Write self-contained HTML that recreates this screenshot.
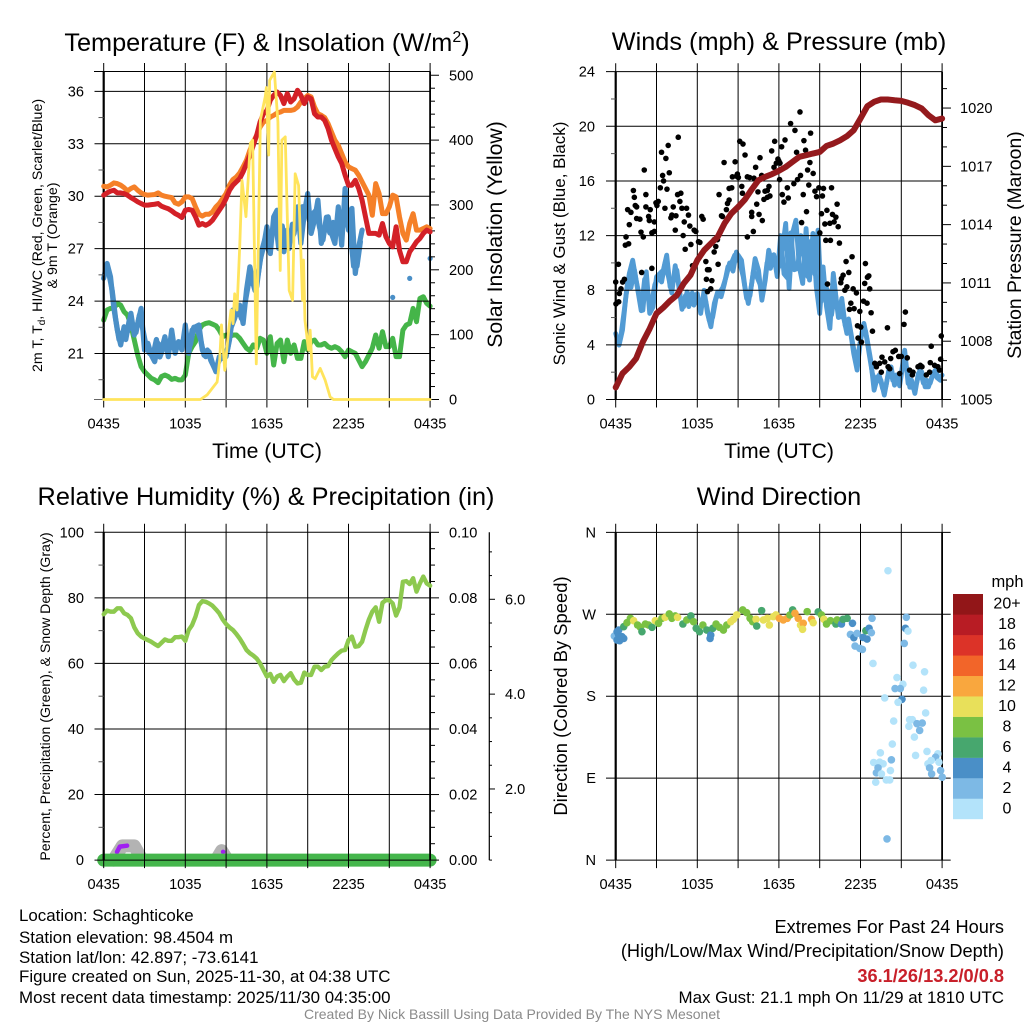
<!DOCTYPE html>
<html lang="en">
<head>
<meta charset="utf-8">
<title>NYS Mesonet Station Meteogram</title>
<style>
html,body{margin:0;padding:0;background:#fff;}
svg{display:block;font-family:"Liberation Sans",Arial,sans-serif;}
</style>
</head>
<body>
<svg id="fig" xmlns="http://www.w3.org/2000/svg" width="1024" height="1024" viewBox="0 0 1024 1024">
<rect width="1024" height="1024" fill="#fff"/>
<text x="267" y="51" font-size="25.3" text-anchor="middle">Temperature (F) &amp; Insolation (W/m<tspan dy="-9" font-size="16">2</tspan><tspan dy="9">)</tspan></text>
<text x="779" y="50" font-size="25.3" text-anchor="middle">Winds (mph) &amp; Pressure (mb)</text>
<text x="266" y="505" font-size="25.3" text-anchor="middle">Relative Humidity (%) &amp; Precipitation (in)</text>
<text x="779" y="505" font-size="25.3" text-anchor="middle">Wind Direction</text>

<text x="267" y="458" font-size="21.2" text-anchor="middle">Time (UTC)</text>
<text x="779" y="458" font-size="21.2" text-anchor="middle">Time (UTC)</text>

<text transform="translate(42,235.5) rotate(-90)" font-size="14.2" text-anchor="middle">2m T, T<tspan dy="3" font-size="10">d</tspan><tspan dy="-3">, HI/WC (Red, Green, Scarlet/Blue)</tspan></text>
<text transform="translate(57,235.5) rotate(-90)" font-size="14.2" text-anchor="middle">&amp; 9m T (Orange)</text>
<text transform="translate(502,234.5) rotate(-90)" font-size="21.2" text-anchor="middle">Solar Insolation (Yellow)</text>
<text transform="translate(565,243.5) rotate(-90)" font-size="17" text-anchor="middle">Sonic Wind &amp; Gust (Blue, Black)</text>
<text transform="translate(1021,245) rotate(-90)" font-size="19.4" text-anchor="middle">Station Pressure (Maroon)</text>
<text transform="translate(50,696.5) rotate(-90)" font-size="14.1" text-anchor="middle">Percent, Precipitation (Green), &amp; Snow Depth (Gray)</text>
<text transform="translate(567,696) rotate(-90)" font-size="18.4" text-anchor="middle">Direction (Colored By Speed)</text>

<g id="p1"></g>
<g id="p2"></g>
<g id="p3"></g>
<g id="p4"></g>
<g id="cb"></g>

<text x="1007.5" y="587" font-size="16.5" text-anchor="middle">mph</text>

<g font-size="16.9">
<text x="19" y="921">Location: Schaghticoke</text>
<text x="19" y="943">Station elevation: 98.4504 m</text>
<text x="19" y="963">Station lat/lon: 42.897; -73.6141</text>
<text x="19" y="982">Figure created on Sun, 2025-11-30, at 04:38 UTC</text>
<text x="19" y="1003">Most recent data timestamp: 2025/11/30 04:35:00</text>
</g>
<g text-anchor="end">
<text x="1004" y="933" font-size="18.2">Extremes For Past 24 Hours</text>
<text x="1004" y="957" font-size="18.2">(High/Low/Max Wind/Precipitation/Snow Depth)</text>
<text x="1004" y="982" font-size="18.2" font-weight="bold" fill="#c8202a">36.1/26/13.2/0/0.8</text>
<text x="1004" y="1003" font-size="16.9">Max Gust: 21.1 mph On 11/29 at 1810 UTC</text>
</g>
<text x="512" y="1019" font-size="14" fill="#8a8a8a" text-anchor="middle">Created By Nick Bassill Using Data Provided By The NYS Mesonet</text>
</svg>

<script>
// ---------- chart data (15-minute samples unless noted; hours since 0435 UTC) ----------
const timeTickLabels = ['0435','1035','1635','2235','0435'];
const airTemp = [30.06,30.19,30.29,30.34,30.19,30.19,30.15,30.06,29.92,29.81,29.68,29.58,29.49,29.49,29.52,29.54,29.58,29.43,29.35,29.28,29.16,29.01,28.91,28.78,29.2,29.24,29.2,28.82,28.34,28.44,28.34,28.44,28.63,28.91,29.2,29.49,29.87,30.34,30.63,30.82,31.01,31.39,31.87,32.34,32.91,33.49,34.25,34.72,34.9,35.49,35.77,35.96,35.77,35.3,35.87,35.39,35.58,36.06,35.77,35.3,35.68,35.58,34.72,34.53,34.53,34.34,33.87,33.2,32.72,32.25,31.87,31.2,30.63,30.63,30.91,30.44,29.77,28.82,27.87,27.87,27.87,27.77,28.44,27.68,27.3,27.1,28.25,26.9,26.25,26.25,26.82,27.1,27.39,27.58,27.87,28.06,27.96];
const temp9m = [30.57,30.53,30.63,30.76,30.72,30.63,30.49,30.3,30.44,30.53,30.34,30.19,30.1,30.06,30.08,30.1,30.19,30.06,30.0,29.96,29.92,29.62,29.54,29.68,29.96,29.96,29.87,29.39,28.97,28.86,28.97,28.97,29.1,29.39,29.58,29.87,30.15,30.63,30.95,31.1,31.33,31.68,32.06,32.63,33.1,33.49,33.96,34.25,34.34,34.53,34.63,34.76,34.82,34.91,34.91,34.91,34.95,35.1,35.39,35.58,35.77,35.68,35.1,34.72,34.63,34.5,34.15,33.67,33.2,32.91,32.44,31.96,31.68,31.58,31.49,31.2,30.82,30.44,30.06,28.91,30.72,30.15,29.0,29.0,29.39,30.06,29.96,28.82,27.87,27.49,28.44,29.0,28.06,28.06,28.15,28.25,28.15];
const dewPoint = [22.91,23.49,23.58,23.58,23.87,23.77,23.39,23.2,22.63,21.77,20.91,20.25,19.96,19.77,19.58,19.49,19.33,19.68,19.77,19.68,19.52,19.58,19.49,19.49,19.77,21.01,21.39,21.68,22.34,22.63,22.72,22.76,22.68,22.59,22.34,21.96,22.06,21.96,22.06,22.06,21.87,21.58,21.3,21.16,21.49,21.3,21.87,21.77,21.01,21.96,20.34,21.58,21.77,20.53,21.77,21.01,21.49,20.72,20.72,21.68,21.2,21.68,21.77,21.49,21.49,21.58,21.39,21.3,21.39,21.3,21.1,20.82,21.2,21.1,21.01,20.63,20.25,20.53,20.91,21.3,22.06,21.3,22.25,21.39,21.39,21.87,20.82,20.82,22.34,22.63,22.72,23.58,22.82,24.15,24.25,23.87,23.71];
const windChill = [25.3,26.15,25.39,23.58,22.34,21.49,22.53,22.25,23.3,22.06,22.72,23.58,21.2,21.58,20.91,20.53,21.58,21.2,21.96,20.82,22.34,21.01,21.68,21.2,22.63,21.01,22.34,22.53,22.63,21.2,20.82,21.1,20.44,19.96,20.82,20.72,20.82,21.77,23.49,23.3,23.77,22.72,24.63,25.96,25.01,24.82,26.34,27.1,28.25,26.72,28.82,29.2,27.49,26.82,28.06,27.49,27.87,29.39,27.3,29.01,30.15,27.87,28.63,29.77,27.3,28.06,28.82,27.87,27.3,29.39,27.2,30.44,28.06,29.3,25.58,27.1,28.06,null,null,null,null,null,null,null,null,24.21,null,null,null,null,25.3,null,null,null,null,null,26.44];
// extra 15-minute samples offset by 7.5 minutes from the series above
const windChillMid = [25.6,25.6,24.6,23,21.8,22.2,21.8,22.9,22.4,22.2,23.2,22.4,21.4,21.0,20.9,21.8,20.8,21.3,21.4,21.3,21.6,21.4,21.4,21.8,22.0,21.5,22.5,22.4,21.8,20.9,21.2,20.6,20.2,20.4,20.8,20.9,21.3,22.5,23.0,23.6,23.0,23.8,24.9,25.3,24.6,25.6,26.9,27.6,26.9,27.8,28.6,27.0,28.3,27.2,27.0,28.4,28.2,28.2,29.4,29.4,28.6,29.0,29.2,28.2,27.5,28.8,27.9,28.5,28.0,28.0,29.0,28.4,28.0,26.0,26.0,27.4];
const solarHours = [0,7.11,7.6,7.97,8.34,8.53,8.66,8.9,9.19,9.36,9.51,9.63,9.8,10.0,10.17,10.46,10.78,10.95,11.22,11.39,11.52,11.88,11.96,12.13,12.2,12.55,12.81,12.98,13.1,13.35,13.64,13.89,14.08,14.33,14.62,14.69,14.8,15.06,15.18,15.35,15.55,15.92,16.28,16.65,16.9,24];
const solarValues = [0,0,7,17,27,61,115,45,107,138,117,163,138,235,338,282,395,400,55,266,431,467,481,377,492,505,428,199,400,405,168,153,348,330,153,215,122,76,107,35,32,48,30,4,0,0];

const windSpeed = [4.83,3.98,5.08,7.52,9.23,10.2,8.74,7.52,6.54,9.35,6.3,6.79,8.98,9.23,9.47,10.57,8.25,8.74,9.47,7.52,6.79,7.88,7.27,6.91,7.76,6.3,8.0,6.3,5.32,7.03,7.88,7.52,8.49,9.71,9.96,10.57,10.57,10.2,8.25,7.03,8.49,10.32,9.47,7.27,8.74,10.93,9.96,10.2,9.71,10.93,12.89,8.13,12.16,13.13,9.71,8.49,12.52,8.74,12.16,8.25,6.3,9.71,6.79,5.2,9.23,7.03,6.05,6.05,4.83,5.08,3.37,2.15,4.34,5.57,4.34,2.88,0.68,1.66,1.42,0.32,1.66,2.39,1.05,1.66,1.9,3.61,1.17,1.42,0.44,1.9,2.03,0.93,0.93,1.66,2.15,1.54,1.78];
// extra 15-minute samples offset by 7.5 minutes from the series above
const windSpeedMid = [4.4,4.6,6.5,8.6,8.2,9.5,8.0,6.5,8.8,7.6,7.0,8.4,9.0,8.6,10.0,9.0,7.8,9.8,8.4,6.6,7.6,6.8,7.8,7.4,7.0,7.2,7.2,5.8,6.0,7.4,7.8,8.2,9.0,10.0,9.4,10.8,10.0,9.0,7.4,7.6,9.4,9.0,8.4,8.0,10.0,9.6,10.6,9.0,12.0,9.2,8.9,12.2,9.5,9.6,12.0,10.2,9.0,11.6,9.2,12.4,7.2,8.4,7.9,6.2,8.0,6.0,7.4,5.4,5.9,4.4,3.0,3.6,5.0,5.0,3.4,1.9,1.2,1.8,0.8,1.0,2.4,1.4,1.8,1.0,2.6,2.4,0.9,0.9,1.2,2.2,1.2,1.4,1.2,2.0,1.6,1.4];
// pressure is sampled every 30 minutes
const pressure = [1005.62,1006.34,1006.68,1007.11,1007.97,1008.65,1009.43,1009.73,1010.08,1010.37,1010.97,1011.4,1012.17,1012.68,1013.03,1013.37,1014.06,1014.57,1014.91,1015.29,1015.81,1016.29,1016.46,1016.6,1016.77,1016.97,1017.23,1017.49,1017.57,1017.66,1017.74,1018.05,1018.17,1018.34,1018.55,1018.86,1019.46,1020.09,1020.32,1020.44,1020.44,1020.4,1020.37,1020.27,1020.15,1019.98,1019.63,1019.37,1019.46];
const gustHours = [0,0.02,0.22,0.27,0.39,0.51,0.64,0.2,0.71,0.95,0.76,1.0,0.88,1.12,1.37,1.3,1.54,1.44,1.54,1.78,1.86,2.03,1.91,2.1,2.22,2.22,2.42,2.47,2.54,2.66,2.84,2.84,2.66,3.03,3.13,2.96,3.28,3.45,3.52,3.37,3.69,3.86,3.94,3.77,3.62,4.06,4.13,4.23,4.43,4.38,4.55,4.79,4.72,4.6,4.87,5.04,5.21,5.35,4.96,5.11,5.53,5.45,5.77,5.65,5.89,6.09,6.19,6.33,6.43,6.63,6.75,6.87,6.67,7.07,6.99,6.75,7.24,7.36,7.48,7.24,7.53,7.6,7.78,7.85,8.14,8.22,8.34,8.34,8.53,7.97,8.78,8.58,8.88,9.02,8.95,9.12,9.36,9.27,9.51,9.32,9.68,9.85,10.0,10.0,9.68,10.12,10.17,10.29,10.37,10.54,10.78,10.46,10.61,10.73,10.98,11.15,11.27,11.34,11.15,10.9,11.47,11.69,11.64,11.81,11.93,12.05,12.0,12.2,12.25,12.08,12.45,12.86,13.18,13.55,13.84,14.33,13.96,13.3,14.28,14.11,14.52,13.59,13.37,13.1,12.62,12.37,12.69,13.79,14.2,14.65,14.94,15.28,15.87,15.2,14.77,16.28,15.53,15.13,15.94,16.19,14.03,13.67,15.38,15.75,16.06,16.36,15.01,15.45,15.79,16.45,17.38,16.94,18.36,17.14,16.72,16.6,16.55,15.57,18.31,18.61,18.51,18.68,17.0,17.46,17.7,16.85,17.29,17.19,17.53,18.22,18.48,17.95,18.78,17.78,18.02,18.88,19.98,21.3,21.2,23.94,23.2,18.07,17.82,19.05,19.17,19.58,19.41,19.78,20.03,20.22,20.39,20.56,20.81,21.0,21.44,19.53,21.61,21.81,22.23,22.4,22.52,23.13,23.45,23.69,23.89,23.81,23.08,22.84,21.86,20.88,20.15];
const gustValues = [8.6,7.0,7.15,7.76,8.1,8.6,8.8,9.9,11.3,11.4,11.9,12.8,13.9,13.7,14.8,15.3,14.1,14.2,13.25,13.2,12.25,11.9,9.3,16.8,15.0,14.1,13.4,13.1,13.9,12.2,12.3,13.0,9.6,14.2,14.5,14.4,15.5,16.4,16.0,18.1,17.65,18.6,16.6,15.4,14.0,13.3,13.5,14.1,13.45,12.4,15.0,15.1,14.5,19.2,14.0,13.0,14.0,13.5,12.0,11.0,11.35,12.7,12.4,9.8,12.3,11.55,11.5,13.4,13.2,10.1,9.5,9.5,8.8,8.7,8.1,7.9,10.8,11.2,11.7,11.7,9.9,15.0,13.45,13.4,13.9,14.35,14.6,15.45,15.5,17.35,17.4,16.3,16.35,16.25,16.5,18.9,18.7,15.6,17.9,15.1,16.3,16.25,13.7,13.4,11.9,12.3,16.2,17.0,14.3,13.55,13.1,15.2,17.7,16.4,15.25,15.3,15.6,14.9,14.8,14.65,18.2,18.9,17.0,17.3,17.6,16.1,17.45,18.5,15.0,17.3,19.0,20.2,19.7,21.05,18.95,19.5,18.25,18.1,17.35,16.8,16.55,16.4,16.1,15.8,15.5,14.45,14.75,15.0,15.7,15.25,15.5,15.45,15.5,14.9,14.85,14.3,13.85,13.6,13.55,13.35,13.75,12.95,12.85,12.9,13.0,12.65,12.2,11.65,11.65,11.45,10.45,10.1,9.95,9.3,9.1,8.85,8.55,8.45,8.5,9.05,8.95,8.1,8.25,8.1,7.8,8.0,7.05,6.6,6.65,7.2,7.05,6.45,6.35,5.4,5.3,5.0,5.25,6.4,5.5,4.65,3.9,4.2,4.5,2.65,2.4,3.1,2.65,2.75,2.4,3.0,3.5,3.6,3.15,3.15,3.05,2.0,2.15,1.8,2.4,2.5,2.4,2.7,2.5,2.4,2.95,2.15,2.0,1.8,2.0,1.9,2.25];

const humidity = [75,76.1,75.8,75.8,76.8,76.8,75.3,74.8,73.8,71,69.2,68.2,67.6,67.1,66.6,65.9,65.3,66.3,67.3,66.9,66.9,68,68,68.2,66.9,70.2,71.7,74.3,77.8,79,78.8,78.3,77.6,76.5,75.3,73.4,72,71,70.2,69,67.6,65.9,64.1,63.1,62.4,61.5,60,58,56,56.8,54.4,56,56.5,54.6,56,57,55.1,53.9,54.1,57.2,56.5,56.5,59,59,58,59,59.2,61,62.1,63.1,63.9,64.1,67.1,68.2,65.1,65.3,66.6,70.2,73.4,75.8,77.1,72.7,78.5,79.3,79.3,78.3,74.6,77.1,84.9,85.1,84.2,86,81.9,84.4,86.5,84.4,83.7];
const precipHours = [0,24];
const precipValues = [0,0];
const snowHoursA = [0.71,1.37,2.25,2.84];
const snowValuesA = [0.5,0.8,0.8,0.5];
const snowHoursB = [8.26,8.67,9.11];
const snowValuesB = [0.5,0.7,0.5];
const traceHoursA = [0.98,1.18,1.72];
const traceValuesA = [2.5,4.1,4.4];
const traceHoursB = [8.78];
const traceValuesB = [2.5];

const dirHours = [-0.1,0.1,0.22,0.34,0.46,0.1,0.29,0.59,0.22,0.59,0.83,1.08,1.32,1.61,1.81,1.93,2.18,2.42,2.67,2.91,3.15,3.4,3.64,3.94,4.13,4.38,4.55,4.94,5.23,5.53,5.72,5.92,6.16,6.41,6.7,6.94,6.99,7.14,7.38,7.63,7.92,8.17,8.46,8.66,8.9,9.34,9.63,9.88,10.07,10.32,10.37,10.73,10.86,11.15,11.3,11.59,11.78,12.03,12.32,12.62,12.81,13.01,13.18,13.42,13.59,13.79,13.74,14.08,14.4,14.52,14.89,15.13,15.31,15.5,15.79,16.19,16.28,16.6,16.72,17.02,17.41,17.26,17.51,17.75,18.19,17.6,17.95,18.14,18.39,18.63,18.8,18.85,18.48,18.92,20.02,21.37,21.3,21.49,21.22,21.86,22.71,20.68,21.12,20.54,20.93,22.64,19.78,21.05,20.76,22.79,20.44,21.61,21.81,21.56,22.15,22.54,22.35,21.96,20.34,19.46,22.05,22.89,18.97,19.66,19.41,19.29,20.27,19.17,20.2,23.69,23.52,23.2,22.96,23.77,23.08,23.23,23.89,19.12,19.9,20.15,19.54,24.01,19.95];
const dirValues = [246.1,250.9,247.2,243.5,245.4,241.7,241,243.5,252.7,256.4,260.8,265.6,263,258.2,255.7,250.9,259.3,258.2,255.7,263,260.1,265.6,266.7,270.4,265.6,268.2,266.7,259.3,263.8,268.2,261.9,254.6,250.9,258.2,252.7,243.5,247.2,254.6,259.3,255.7,252.7,258.2,261.9,264.5,269.3,274.8,271.8,265.6,261.9,264.5,257.1,274,263.8,265.6,258.2,267.4,269.3,265.6,263.8,265.6,269.3,274.8,271.1,265.6,258.2,260.1,253.5,272.9,264.5,260.8,272.6,269.3,264.5,259.3,263,259.3,263.8,259.3,264.5,265.6,260.1,247.9,244.3,249,244.6,235.1,232.5,231.4,252,254.6,249.8,265.6,242.8,216,317.8,266.7,254.6,251.6,238,214.1,206.8,200.5,193.2,188.4,188.4,186.6,178.1,176.6,173.3,161.6,152.7,154.2,154.2,146.9,149.8,150.5,142.4,135.1,127.4,117.8,114.9,119.3,107.2,105.7,107.5,101.3,110.1,95.8,98.3,116.7,113,109.4,105.7,107.5,101.3,94.7,98.3,85.5,88,88,94.7,91,23.3];
const dirSpeeds = [3,5,5,5,5,5,5,5,5,7,9,9,11,9,9,7,9,9,7,11,9,9,11,9,9,9,11,7,9,7,9,7,7,9,7,5,5,7,9,9,9,9,11,11,11,9,9,9,9,11,7,7,11,11,11,11,11,13,13,13,9,7,13,13,11,13,11,9,13,11,7,9,11,9,9,7,9,5,7,7,5,3,5,3,5,3,3,3,7,5,3,3,5,1,1,3,5,1,3,1,1,1,1,3,3,1,1,5,1,1,1,1,1,1,3,3,3,1,1,1,1,1,1,1,1,3,3,3,1,1,3,1,1,1,3,3,3,1,1,1,1,3,3];
const speedBinColors = ['#b3e3fa','#7db9e5','#4a8fc7','#47a76e','#7ac143','#e8e05a','#f9a73e','#f26529','#dc3328','#b81c24','#921618'];
const colorbarLabels = ['0','2','4','6','8','10','12','14','16','18','20+'];

// ---------- axis functions ----------
const xA = h => 103.7 + h * 13.6;
const xB = h => 615.7 + h * 13.6;
const yTemp = v => 353.5 - (v - 21) * 17.477;
const ySolar = v => 399.5 - v * 0.6485;
const yWind = v => 399.5 - v * 13.66;
const yPres = v => 399.5 - (v - 1005) * 19.43;
const yPct = v => 860.1 - v * 3.278;
const yPrecip = v => 860.1 - v * 3278;
const ySnow = v => 860.1 - (v - 0.5) * 47.42;
const yDir = v => 860.1 - v * 0.9105;

const NS = 'http://www.w3.org/2000/svg';
const hourOf = (i, n) => i * 24 / (n - 1);

function seg(x1, y1, x2, y2, w, parent) {
  const el = document.createElementNS(NS, 'line');
  el.setAttribute('x1', x1); el.setAttribute('y1', y1);
  el.setAttribute('x2', x2); el.setAttribute('y2', y2);
  el.setAttribute('stroke', '#000'); el.setAttribute('stroke-width', w);
  
  
  parent.appendChild(el);
  return el;
}
function label(txt, x, y, anchor, size, parent) {
  const el = document.createElementNS(NS, 'text');
  el.setAttribute('x', x); el.setAttribute('y', y + 1);
  el.setAttribute('text-anchor', anchor); el.setAttribute('font-size', size);
  el.setAttribute('dominant-baseline', 'central');
  el.textContent = txt;
  
  
  parent.appendChild(el);
  return el;
}
function pathFrom(hours, values, xf, yf) {
  let d = '', pen = false;
  values.forEach((v, i) => {
    if (v === null) { pen = false; return; }
    const x = xf(hours[i]).toFixed(2), y = yf(v).toFixed(2);
    const nextMissing = i + 1 >= values.length || values[i + 1] === null;
    if (!pen) { d += 'M' + x + ' ' + y; if (nextMissing) d += 'h0.01'; pen = true; }
    else d += 'L' + x + ' ' + y;
  });
  return d;
}
function series(parent, hours, values, xf, yf, color, w, name) {
  const el = document.createElementNS(NS, 'path');
  el.setAttribute('d', pathFrom(hours, values, xf, yf));
  el.setAttribute('fill', 'none'); el.setAttribute('stroke', color);
  el.setAttribute('stroke-width', w);
  el.setAttribute('stroke-linejoin', 'round'); el.setAttribute('stroke-linecap', 'round');
  
  
  parent.appendChild(el);
  return el;
}
const uniform = arr => arr.map((_, i) => hourOf(i, arr.length));
const offsetHours = arr => arr.map((_, i) => (i + 0.5) * 0.25);

function frame(g, xf, top, bot) {
  for (let h = 0; h <= 24; h += 3) {
    seg(xf(h), top - 8.5, xf(h), bot + 8, 1, g);
    if (h % 6 === 0) {
      label(timeTickLabels[h / 6], xf(h), bot + 24, 'middle', 14.6, g);
    }
  }
  seg(xf(0), top, xf(0), bot, 2.2, g);
  seg(xf(24), top, xf(24), bot, 1.8, g);
}

// ---------- Panel 1 ----------
(function () {
  const g = document.getElementById('p1');
  series(g, uniform(dewPoint), dewPoint, xA, yTemp, '#45b549', 5, 'dewpoint-line');
  series(g, offsetHours(windChillMid), windChillMid, xA, yTemp, '#4a8fc7', 5.2, 'wind-chill-detail-line');
  series(g, uniform(windChill), windChill, xA, yTemp, '#4a8fc7', 5.2, 'wind-chill-line');
  frame(g, xA, 71.5, 399.5);
  seg(94, 71.5, 430.1, 71.5, 1, g);
  seg(94, 399.5, 430.1, 399.5, 1, g).setAttribute('stroke', '#666');
  for (let t = 21; t <= 36; t += 3) {
    seg(94.5, yTemp(t), 430.1, yTemp(t), 1, g);
    label(String(t), 84, yTemp(t), 'end', 14.6, g);
  }
  for (let t = 19.5; t <= 36; t += 3) seg(98.5, yTemp(t), 103.7, yTemp(t), 1, g).setAttribute('stroke', '#555');
  for (let s = 0; s <= 500; s += 20) {
    const major = s % 100 === 0;
    seg(430.1, ySolar(s), major ? 439 : 435, ySolar(s), 1, g);
    if (major) label(String(s), 449, ySolar(s), 'start', 14.6, g);
  }
  series(g, uniform(temp9m), temp9m, xA, yTemp, '#f58028', 5, 'temp-9m-line');
  series(g, uniform(airTemp), airTemp, xA, yTemp, '#d32027', 5, 'temp-2m-line');
  series(g, solarHours, solarValues, xA, ySolar, '#ffe45c', 2.8, 'solar-insolation-line');
})();

// ---------- Panel 2 ----------
(function () {
  const g = document.getElementById('p2');
  series(g, offsetHours(windSpeedMid), windSpeedMid, xB, yWind, '#529bd4', 4.8, 'sonic-wind-detail-line');
  series(g, uniform(windSpeed), windSpeed, xB, yWind, '#529bd4', 4.8, 'sonic-wind-line');
  frame(g, xB, 71.7, 399.5);
  for (let w = 0; w <= 24; w += 2) {
    if (w % 4 === 0) {
      seg(606, yWind(w), 942.1, yWind(w), 1, g);
      label(String(w), 595, yWind(w), 'end', 14.6, g);
    } else {
      seg(611, yWind(w), 615.7, yWind(w), 1, g).setAttribute('stroke', '#555');
    }
  }
  for (let p = 1005; p <= 1021; p += 1) {
    const major = (p - 1005) % 3 === 0;
    seg(942.1, yPres(p), major ? 951 : 947, yPres(p), 1, g);
    if (major) label(String(p), 960, yPres(p), 'start', 14.6, g);
  }
  gustValues.forEach((v, i) => {
    const c = document.createElementNS(NS, 'circle');
    c.setAttribute('cx', xB(gustHours[i]).toFixed(2));
    c.setAttribute('cy', yWind(v).toFixed(2));
    c.setAttribute('r', 2.8);
    c.setAttribute('fill', '#000');
    
    
    g.appendChild(c);
  });
  series(g, uniform(pressure), pressure, xB, yPres, '#941a1d', 6, 'pressure-line');
})();

// ---------- Panel 3 ----------
(function () {
  const g = document.getElementById('p3');
  series(g, snowHoursA, snowValuesA, xA, ySnow, '#b3b3b3', 13, 'snow-depth-line');
  series(g, snowHoursB, snowValuesB, xA, ySnow, '#b3b3b3', 13, 'snow-depth-line');
  series(g, traceHoursA, traceValuesA, xA, yPct, '#a020f0', 4.5, 'precip-trace-line');
  series(g, traceHoursB, traceValuesB, xA, yPct, '#a020f0', 4.5, 'precip-trace-line');
  series(g, precipHours, precipValues, xA, yPrecip, '#45b64c', 13, 'precipitation-line');
  frame(g, xA, 532.3, 860.1);
  for (let p = 0; p <= 100; p += 10) {
    if (p % 20 === 0) {
      seg(94.5, yPct(p), 430.1, yPct(p), 1, g);
      label(String(p), 84, yPct(p), 'end', 14.6, g);
    } else {
      seg(98.5, yPct(p), 103.7, yPct(p), 1, g).setAttribute('stroke', '#555');
    }
  }
  for (let i = 0; i <= 20; i++) {
    const v = i * 0.005;
    const major = i % 4 === 0;
    seg(430.1, yPrecip(v), major ? 439 : 435, yPrecip(v), 1, g);
    if (major) label(v.toFixed(2), 449, yPrecip(v), 'start', 14.6, g);
  }
  seg(489.3, 532.3, 489.3, 860.1, 1.2, g);
  for (let i = 1; i <= 14; i++) {
    const v = i * 0.5;
    const major = i % 4 === 0;
    seg(489.3, ySnow(v), major ? 495 : 492, ySnow(v), 1, g);
    if (major) label(v.toFixed(1), 505, ySnow(v), 'start', 14.6, g);
  }
  series(g, uniform(humidity), humidity, xA, yPct, '#8dc94f', 4.4, 'relative-humidity-line');
})();

// ---------- Panel 4 ----------
(function () {
  const g = document.getElementById('p4');
  frame(g, xB, 532.3, 860.1);
  ['N', 'E', 'S', 'W', 'N'].forEach((nm, i) => {
    const d = i * 90;
    seg(606, yDir(d), 950.7, yDir(d), 1, g);
    label(nm, 596, yDir(d), 'end', 14.6, g);
  });
  dirValues.forEach((v, i) => {
    const c = document.createElementNS(NS, 'circle');
    c.setAttribute('cx', xB(dirHours[i]).toFixed(2));
    c.setAttribute('cy', yDir(v).toFixed(2));
    c.setAttribute('r', 3.8);
    c.setAttribute('fill', speedBinColors[Math.floor(dirSpeeds[i] / 2)]);
    
    
    g.appendChild(c);
  });
})();

// ---------- Colour bar ----------
(function () {
  const g = document.getElementById('cb');
  const h = 225 / speedBinColors.length;
  speedBinColors.forEach((col, i) => {
    const r = document.createElementNS(NS, 'rect');
    r.setAttribute('x', 953); r.setAttribute('y', 819 - (i + 1) * h);
    r.setAttribute('width', 30); r.setAttribute('height', h + 0.2);
    r.setAttribute('fill', col);
    
    
    g.appendChild(r);
    label(colorbarLabels[i], 1007, 819 - (i + 0.5) * h - 1, 'middle', 16, g);
  });
})();
</script>
</body>
</html>
